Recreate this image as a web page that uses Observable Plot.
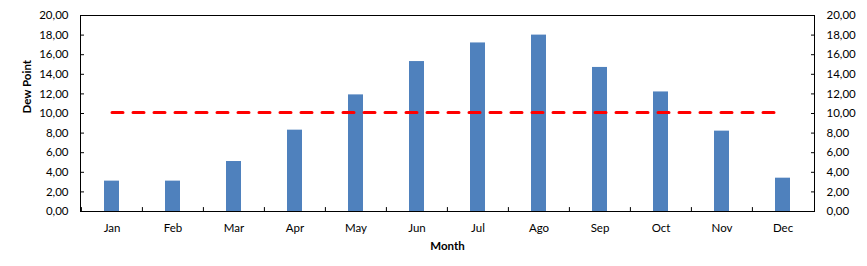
<!DOCTYPE html>
<html>
<head>
<meta charset="utf-8">
<script src="https://cdn.jsdelivr.net/npm/d3@7"></script>
<script src="https://cdn.jsdelivr.net/npm/@observablehq/plot@0.6"></script>
<style>
  html, body { margin: 0; padding: 0; background: #fff; }
  #chart svg { font-family: Lato, "Liberation Sans", sans-serif; }
</style>
</head>
<body>
<div id="chart"></div>
<script>
const months = ["Jan", "Feb", "Mar", "Apr", "May", "Jun", "Jul", "Ago", "Sep", "Oct", "Nov", "Dec"];
const dewPoint = [3.1, 3.1, 5.1, 8.3, 11.9, 15.3, 17.2, 18.0, 14.7, 12.2, 8.2, 3.4];
const average = 10.1;
const yTicks = [0, 2, 4, 6, 8, 10, 12, 14, 16, 18, 20];

const data = months.map((m, i) => ({month: m, value: dewPoint[i], avg: average}));
const fmt = d => d.toFixed(2).replace(".", ",");

const chart = Plot.plot({
  width: 867,
  height: 266,
  marginLeft: 80,
  marginRight: 53,
  marginTop: 15,
  marginBottom: 55,
  style: {fontSize: "11.5px", fontFamily: "Lato, 'Liberation Sans', sans-serif", color: "#000", background: "#fff"},
  x: {domain: months, padding: 0},
  y: {domain: [0, 20]},
  marks: [
    Plot.barY(data, {x: "month", y: "value", fill: "#4F81BD", insetLeft: 23, insetRight: 23}),
    Plot.lineY(data, {x: "month", y: "avg", stroke: "#FF0000", strokeWidth: 3, strokeDasharray: "11,10"}),
    Plot.frame({stroke: "#000", strokeWidth: 1}),
    Plot.axisY(yTicks, {anchor: "left", tickSize: -4, tickPadding: 16, tickFormat: fmt, label: null, stroke: "#000", fill: "#000"}),
    Plot.axisY(yTicks, {anchor: "right", tickSize: -4, tickPadding: 16, tickFormat: fmt, label: null, stroke: "#000", fill: "#000"}),
    Plot.axisX({anchor: "bottom", tickSize: 0, tickPadding: 12, label: null, fill: "#000"}),
    Plot.ruleX(months, {x: d => d, y1: 0, y2: 0.4, dx: -30.6, stroke: "#000"}),
    Plot.text(["Dew Point"], {frameAnchor: "left", dx: -53, rotate: -90, fontWeight: "bold", fill: "#000"}),
    Plot.text(["Month"], {frameAnchor: "bottom", dy: 38, fontWeight: "bold", fill: "#000"})
  ]
});
document.getElementById("chart").appendChild(chart);
</script>
</body>
</html>
